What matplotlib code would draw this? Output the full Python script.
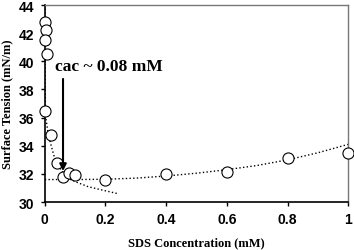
import matplotlib
matplotlib.use("Agg")
import matplotlib.pyplot as plt
from matplotlib.ticker import FormatStrFormatter

# measured points
conc = [0.002, 0.003, 0.001, 0.006, 0.001, 0.02, 0.04, 0.06, 0.08, 0.1, 0.2, 0.4, 0.6, 0.8, 1.0]
tension = [42.8, 42.2, 41.5, 40.5, 36.5, 34.8, 32.8, 31.8, 32.05, 31.9, 31.6, 32.0, 32.15, 33.15, 33.5]

# dotted fit below cac
fit1_x = [0.001, 0.001, 0.002, 0.01, 0.021, 0.03, 0.044, 0.06, 0.077, 0.1, 0.142, 0.18, 0.24]
fit1_y = [44.0, 40.0, 36.2, 35.0, 34.0, 33.3, 32.6, 32.1, 31.7, 31.45, 31.1, 30.9, 30.6]

# dotted fit above cac
fit2_x = [0.0, 0.1, 0.2, 0.3, 0.4, 0.5, 0.6, 0.7, 0.8, 0.9, 1.0]
fit2_y = [31.6, 31.6, 31.62, 31.7, 31.85, 32.05, 32.3, 32.6, 33.0, 33.5, 34.1]

bold_serif = {'family': 'Liberation Serif', 'weight': 'bold'}

fig = plt.figure(figsize=(3.54, 2.51), dpi=100)
ax = fig.add_axes([0.1266, 0.191, 0.857, 0.785])

ax.plot(fit1_x, fit1_y, ':', color='black', lw=1.0)
ax.plot(fit2_x, fit2_y, ':', color='black', lw=1.0)
ax.plot(conc, tension, 'o', mfc='white', mec='black', mew=0.8, ms=8,
        zorder=3, clip_on=False)

ax.annotate('', xy=(0.06, 32.2), xytext=(0.06, 38.75),
            arrowprops=dict(arrowstyle='-|>', color='black', lw=1.5,
                            mutation_scale=10, shrinkA=0, shrinkB=0))
ax.text(0.034, 39.7, 'cac ~ 0.08 mM', fontsize=12.5, va='center', ha='left', **bold_serif)

ax.set_xlim(0, 1)
ax.set_ylim(30, 44)
ax.set_xticks([0, 0.2, 0.4, 0.6, 0.8, 1.0])
ax.set_yticks(range(30, 45, 2))
ax.xaxis.set_major_formatter(FormatStrFormatter('%g'))
ax.tick_params(direction='out', length=3, width=1, labelsize=10, pad=4.5)
for lab in ax.get_xticklabels() + ax.get_yticklabels():
    lab.set_fontfamily('Liberation Sans')
    lab.set_fontweight('bold')

ax.spines['left'].set_linewidth(1.2)
ax.spines['bottom'].set_linewidth(1.2)
for s in ['top', 'right']:
    ax.spines[s].set_color('#777777')
    ax.spines[s].set_linewidth(1.0)

ax.set_xlabel('SDS Concentration (mM)', fontsize=9, labelpad=7, **bold_serif)
ax.set_ylabel('Surface Tension (mN/m)', fontsize=9, labelpad=4, **bold_serif)

fig.savefig('out.png', dpi=100)
